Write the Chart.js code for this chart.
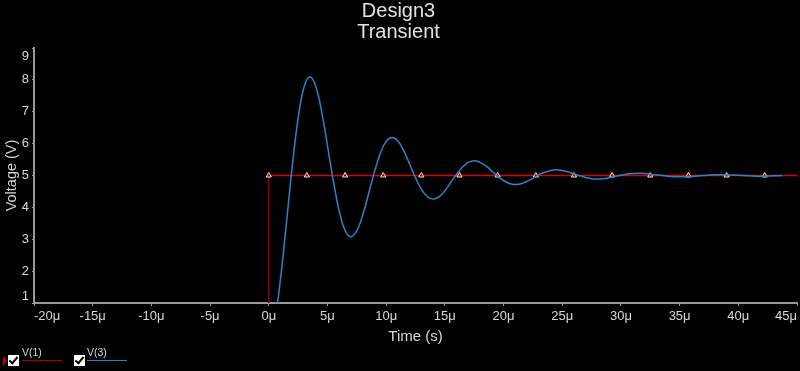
<!DOCTYPE html>
<html>
<head>
<meta charset="utf-8">
<script src="https://cdn.jsdelivr.net/npm/chart.js@4"></script>
<style>
  html,body{margin:0;padding:0;background:#000;overflow:hidden;}
  #wrap{position:relative;width:800px;height:371px;}
  #chart{display:block;}
  .lg{position:absolute;font:10.5px "Liberation Sans",Arial,sans-serif;color:#d8d8d8;}
  .box{position:absolute;width:11px;height:11px;background:#fff;}
  .box span{position:absolute;left:3px;top:0px;width:3px;height:7px;border-right:2px solid #000;border-bottom:2px solid #000;transform:rotate(40deg);}
  .ln{position:absolute;width:40px;height:1px;}
  .mk{position:absolute;width:0;height:0;border-top:5px solid transparent;border-bottom:5px solid transparent;border-left:4px solid #c00000;}
</style>
</head>
<body>
<div id="wrap">
  <canvas id="chart" width="800" height="371"></canvas>
  <!-- legend, drawn like the simulator's check list -->
  <div class="mk" style="left:3px;top:356px"></div>
  <div class="box" style="left:8px;top:355px"><span></span></div>
  <div class="lg" style="left:22px;top:346px">V(1)</div>
  <div class="ln" style="left:22px;top:360px;background:repeating-linear-gradient(90deg,#d00000 0 2px,#500000 2px 3px)"></div>
  <div class="box" style="left:74px;top:355px"><span></span></div>
  <div class="lg" style="left:87px;top:346px">V(3)</div>
  <div class="ln" style="left:87px;top:360px;background:#2a7fc0"></div>
</div>
<script>
// time in microseconds
const v1Time = [-20, 0, 0, 3.25, 6.5, 9.75, 13, 16.25, 19.5, 22.75, 26, 29.25, 32.5, 35.75, 39, 42.25, 45];
const v1Values = [0, 0, 5, 5, 5, 5, 5, 5, 5, 5, 5, 5, 5, 5, 5, 5, 5];

const v3Time = [-20, 0, 0.5, 1, 1.5, 2, 2.5, 3, 3.5, 4, 4.5, 5, 5.5, 6, 6.5, 7, 7.5, 8, 8.5, 9, 9.5,
  10, 10.5, 11, 11.5, 12, 12.5, 13, 13.5, 14, 14.5, 15, 15.5, 16, 16.5, 17, 17.5, 18, 18.5, 19, 19.5,
  20, 20.5, 21, 21.5, 22, 22.5, 23, 23.5, 24, 24.5, 25, 25.5, 26, 26.5, 27, 27.5, 28, 28.5, 29, 29.5,
  30, 30.5, 31, 31.5, 32, 33, 34, 35, 36, 37, 38, 39, 40, 41, 42, 43, 43.75];
const v3Values = [0, 0, 0.48, 1.76, 3.49, 5.28, 6.79, 7.77, 8.10, 7.80, 7.01, 5.94, 4.83, 3.89, 3.28, 3.08, 3.26, 3.76, 4.42, 5.11, 5.69,
  6.07, 6.19, 6.08, 5.77, 5.36, 4.93, 4.57, 4.34, 4.26, 4.33, 4.52, 4.78, 5.04, 5.26, 5.41, 5.46, 5.41, 5.30, 5.14, 4.97,
  4.84, 4.75, 4.72, 4.74, 4.82, 4.91, 5.02, 5.10, 5.16, 5.18, 5.16, 5.11, 5.05, 4.99, 4.94, 4.90, 4.89, 4.90, 4.93, 4.97,
  5.01, 5.04, 5.06, 5.07, 5.06, 5.02, 4.98, 4.96, 4.97, 5.00, 5.02, 5.02, 5.01, 4.99, 4.98, 4.99, 5.00];

const xMin = -20, xMax = 45, xStep = 5;
const yMin = 1, yMax = 9, yStep = 1;

const FONT = '"Liberation Sans", Arial, sans-serif';
const AXIS = '#9a9a9a';
const TXT = '#d8d8d8';

const toPts = (xs, ys) => xs.map((x, i) => ({x: x, y: ys[i]}));

// keep the end labels of the y axis inside the plot, like the x axis does with align:'inner'
const yInnerLabels = {
  id: "yInnerLabels",
  beforeDraw(chart){
    const items = chart.scales.y.getLabelItems();
    if(!items.length || items._shifted) return;
    items[0].options.translation[1] -= 7;
    items[items.length-1].options.translation[1] += 8;
    items._shifted = true;
  }
};

new Chart(document.getElementById("chart"), {
  type: "line",
  data: {
    datasets: [
      {
        label: "V(1)",
        data: toPts(v1Time, v1Values),
        borderColor: "#d80000",
        borderWidth: 1.5,
        tension: 0,
        order: 1,
        segment: {
          borderColor: c => c.p0.parsed.x === c.p1.parsed.x ? "#8a0000" : "#d80000"
        },
        pointStyle: "triangle",
        pointRadius: c => (c.dataIndex >= 2 && c.dataIndex < v1Time.length - 1) ? 3 : 0,
        pointBackgroundColor: "#a00000",
        pointBorderColor: "#e6e6e6",
        pointBorderWidth: 1
      },
      {
        label: "V(3)",
        data: toPts(v3Time, v3Values),
        borderColor: "#2a85c8",
        borderWidth: 1.5,
        tension: 0.4,
        pointRadius: 0,
        order: 0
      }
    ]
  },
  options: {
    responsive: false,
    animation: false,
    layout: {padding: {right: 3}},
    plugins: {
      legend: {display: false},
      tooltip: {enabled: false},
      title: {
        display: true,
        text: ["Design3", "Transient"],
        color: "#e2e2e2",
        font: {family: FONT, size: 20, weight: "normal", lineHeight: 1.05},
        padding: {top: 1, bottom: 5}
      }
    },
    scales: {
      x: {
        type: "linear",
        min: xMin, max: xMax,
        afterFit: s => { s.height = 68; },
        border: {color: AXIS, width: 2},
        grid: {drawOnChartArea: false, color: AXIS, tickLength: 3},
        ticks: {
          stepSize: xStep, align: "inner", padding: 3, color: TXT, maxRotation: 0,
          font: {family: FONT, size: 13},
          callback: v => v + "μ"
        },
        title: {
          display: true, text: "Time (s)", color: TXT,
          font: {family: FONT, size: 15}, padding: {top: 0, bottom: 25}
        }
      },
      y: {
        min: yMin, max: yMax,
        afterFit: s => { s.width = 34; },
        border: {color: AXIS, width: 2},
        grid: {drawOnChartArea: false, color: AXIS, tickLength: 2},
        ticks: {
          stepSize: yStep, padding: 3, color: TXT,
          font: {family: FONT, size: 13}
        },
        title: {
          display: true, text: "Voltage (V)", color: TXT,
          font: {family: FONT, size: 14.5}, padding: {top: 3, bottom: 0}
        }
      }
    }
  },
  plugins: [yInnerLabels]
});
</script>
</body>
</html>
